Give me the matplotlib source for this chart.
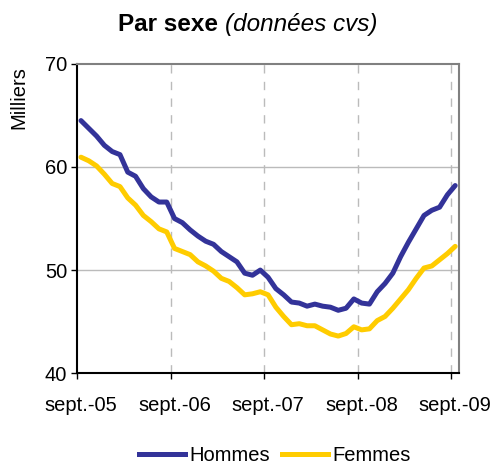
import numpy as np
import matplotlib
matplotlib.use("Agg")
import matplotlib.pyplot as plt
from matplotlib.lines import Line2D

# monthly values, sept-05 .. sept-09 (thousands)
hommes = [64.5, 63.75, 63.0, 62.1, 61.5, 61.2, 59.5, 59.1, 57.9, 57.1,
          56.6, 56.6, 55.0, 54.6, 53.9, 53.3, 52.8, 52.5, 51.8, 51.3,
          50.8, 49.7, 49.5, 50.0, 49.3, 48.2, 47.6, 46.9, 46.8, 46.5,
          46.7, 46.5, 46.4, 46.1, 46.3, 47.2, 46.8, 46.7, 47.9, 48.7,
          49.7, 51.3, 52.7, 54.0, 55.3, 55.8, 56.1, 57.3, 58.2]
femmes = [60.95, 60.6, 60.1, 59.3, 58.4, 58.1, 57.0, 56.3, 55.3, 54.7,
          54.0, 53.7, 52.1, 51.8, 51.5, 50.8, 50.4, 49.9, 49.2, 48.9,
          48.3, 47.6, 47.7, 47.9, 47.6, 46.4, 45.5, 44.7, 44.8, 44.6,
          44.6, 44.2, 43.8, 43.6, 43.85, 44.5, 44.2, 44.3, 45.1, 45.5,
          46.3, 47.2, 48.1, 49.2, 50.2, 50.4, 51.0, 51.6, 52.3]
tick_labels = ["sept.-05", "sept.-06", "sept.-07", "sept.-08", "sept.-09"]

plt.rcParams['font.family'] = ['Liberation Sans', 'DejaVu Sans']

fig = plt.figure(figsize=(4.91, 4.63), dpi=100)
ax = fig.add_axes([0.157, 0.194, 0.778, 0.668])

x = np.arange(len(hommes))
c_h = "#333399"
c_f = "#FFCC00"
ax.plot(x, hommes, color=c_h, lw=3.6, solid_capstyle="round", zorder=3)
ax.plot(x, femmes, color=c_f, lw=3.6, solid_capstyle="round", zorder=3)

ax.set_xlim(-0.5, len(hommes) - 0.5)
ax.set_ylim(40, 70)
ax.set_yticks([40, 50, 60, 70])
ax.tick_params(axis="y", labelsize=14.5, length=4, width=1, pad=3)

# tick marks at year boundaries, labels under the september point
bounds = np.arange(-0.5, len(hommes), 12)
ax.set_xticks(bounds)
ax.set_xticklabels([])
ax.tick_params(axis="x", length=4, width=1)
for i, lab in enumerate(tick_labels):
    ax.text(i * 12, 37.8, lab, ha="center", va="top", fontsize=14.5)

for b in bounds[1:]:
    ax.axvline(b, color="#BBBBBB", lw=1, ls=(0, (6, 6)), zorder=1)
for v in [50, 60]:
    ax.axhline(v, color="#BBBBBB", lw=1, zorder=1)

ax.spines["left"].set_color("black")
ax.spines["bottom"].set_color("black")
ax.spines["top"].set_color("#808080")
ax.spines["right"].set_color("#808080")
for s in ax.spines.values():
    s.set_linewidth(1.5)

fig.text(0.039, 0.79, "Milliers", rotation=90, ha="center", va="center", fontsize=14.5)

fig.text(0.443, 0.948, "Par sexe", ha="right", va="center", fontsize=17.5, fontweight="bold")
fig.text(0.458, 0.948, "(données cvs)", ha="left", va="center", fontsize=17.5, fontstyle="italic")

handles = [Line2D([], [], color=c_h, lw=3.6), Line2D([], [], color=c_f, lw=3.6)]
fig.legend(handles, ["Hommes", "Femmes"], loc="center", bbox_to_anchor=(0.559, 0.016),
           ncol=2, frameon=False, fontsize=14.5, handlelength=2.3, handletextpad=0.2,
           columnspacing=0.6)

fig.savefig("out.png", dpi=100)
